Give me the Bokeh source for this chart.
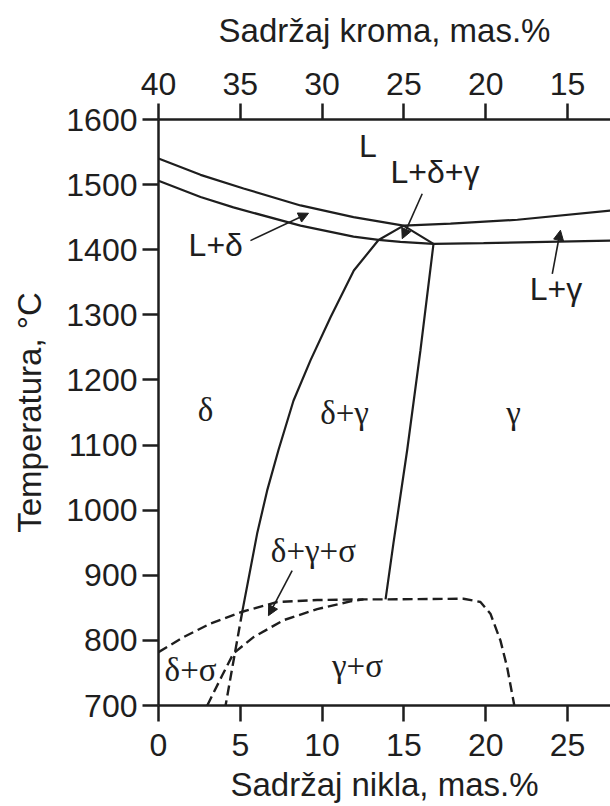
from bokeh.plotting import figure
from bokeh.models import Range1d, LinearAxis, FixedTicker, Arrow, NormalHead, ColumnDataSource
from bokeh.core.properties import value
from bokeh.embed import file_html
from bokeh.resources import INLINE

# ---- data ----
ni_ticks = [0, 5, 10, 15, 20, 25]
cr_ticks = [40, 35, 30, 25, 20, 15]
t_ticks = [700, 800, 900, 1000, 1100, 1200, 1300, 1400, 1500, 1600]

# liquidus (L / L+delta, then L / L+gamma)
liq_ni = [0, 2.57, 5.2, 8.68, 11.92, 14.98, 17.85, 21.94, 27.63]
liq_t = [1540, 1515, 1494, 1468, 1450, 1437, 1440, 1446, 1460]
# solidus (L+delta / delta, then L+gamma / gamma)
sol_ni = [0, 2.57, 4.58, 8.68, 11.92, 13.45, 14.79, 16.81, 19.87, 27.63]
sol_t = [1506, 1481, 1465, 1437, 1420, 1415, 1412, 1409, 1410, 1414]
# three-phase triangle L+delta+gamma (sides to the apex)
tri_ni = [13.45, 14.98, 16.81]
tri_t = [1415, 1437, 1409]
# delta / delta+gamma boundary (solid)
delta_ni = [13.45, 11.94, 10.51, 9.29, 8.25, 7.33, 6.64, 6.03, 5.12]
delta_t = [1415, 1368, 1296, 1230, 1168, 1092, 1030, 964, 844]
# gamma / delta+gamma boundary (solid)
gamma_ni = [16.81, 16.01, 15.2, 14.36, 13.88]
gamma_t = [1409, 1245, 1092, 949, 863]
# delta boundary, low-temperature dashed part
delta_low_ni = [5.12, 4.1]
delta_low_t = [844, 700]
# sigma solvus, upper dashed curve
sig_up_ni = [0, 1.53, 3.18, 5.12, 7.26, 9.7, 12.53, 13.88, 18.64, 19.68, 20.29, 20.9, 21.31, 21.75]
sig_up_t = [782, 805, 826, 844, 859, 862, 863, 863, 864, 859, 841, 800, 759, 700]
# sigma solvus, lower dashed curve
sig_low_ni = [2.98, 3.89, 4.58, 5.81, 7.64, 9.7, 11.74, 12.53]
sig_low_t = [700, 746, 780, 805, 831, 848, 860, 863]

# phase-field labels
sans_labels = ["L", "L+δ+γ", "L+δ", "L+γ"]
sans_ni = [12.8, 16.9, 3.5, 24.3]
sans_t = [1560, 1520, 1407, 1339]
serif_labels = ["δ", "δ+γ", "γ", "δ+γ+σ", "δ+σ", "γ+σ"]
serif_ni = [2.87, 11.37, 21.7, 9.47, 1.96, 12.16]
serif_t = [1154, 1150, 1149, 938, 754, 760]

# pointer arrows (start Ni, start T, end Ni, end T)
arrows = [
    (5.62, 1414, 9.17, 1456),
    (16.12, 1486, 14.9, 1417),
    (24.07, 1363, 24.57, 1430),
    (8.17, 907, 6.72, 838),
]

X_MAX = 27.63
INK = "#1e1e1e"

p = figure(width=610, height=806,
           x_range=Range1d(0, X_MAX), y_range=Range1d(700, 1600),
           output_backend="svg", toolbar_location=None,
           min_border_left=158, min_border_right=0,
           min_border_top=119, min_border_bottom=101)
p.extra_x_ranges = {"cr": Range1d(40, 40 - X_MAX)}
p.grid.visible = False
p.outline_line_color = None
p.background_fill_color = "white"
p.border_fill_color = "white"

bottom = p.below[0]
left = p.left[0]
top = LinearAxis(x_range_name="cr")
p.add_layout(top, "above")

TICK_FONT = "32px"
TITLE_FONT = "33px"
for ax in [bottom, left, top]:
    ax.axis_line_width = 2.5
    ax.axis_line_color = INK
    ax.major_tick_line_width = 2.5
    ax.major_tick_line_color = INK
    ax.major_tick_out = 16
    ax.major_tick_in = 0
    ax.minor_tick_line_color = None
    ax.major_label_text_font = "Liberation Sans"
    ax.major_label_text_font_size = TICK_FONT
    ax.major_label_text_color = INK
    ax.axis_label_text_font = "Liberation Sans"
    ax.axis_label_text_font_size = TITLE_FONT
    ax.axis_label_text_font_style = "normal"
    ax.axis_label_text_color = INK

bottom.ticker = FixedTicker(ticks=ni_ticks)
bottom.axis_label = "Sadržaj nikla, mas.%"
bottom.major_label_standoff = 12
bottom.axis_label_standoff = 7

top.ticker = FixedTicker(ticks=cr_ticks)
top.axis_label = "Sadržaj kroma, mas.%"
top.major_label_standoff = 9
top.axis_label_standoff = 21

left.ticker = FixedTicker(ticks=t_ticks)
left.axis_label = "Temperatura, °C"
left.major_label_standoff = 5
left.axis_label_standoff = 15

SOLID = dict(line_color=INK, line_width=2.2)
DASH = dict(line_color=INK, line_width=2.4, line_dash="10 5")

p.line(liq_ni, liq_t, **SOLID)
p.line(sol_ni, sol_t, **SOLID)
p.line(tri_ni, tri_t, **SOLID)
p.line(delta_ni, delta_t, **SOLID)
p.line(gamma_ni, gamma_t, **SOLID)
p.line(delta_low_ni, delta_low_t, **DASH)
p.line(sig_up_ni, sig_up_t, **DASH)
p.line(sig_low_ni, sig_low_t, **DASH)

for (x0, y0, x1, y1) in arrows:
    p.add_layout(Arrow(end=NormalHead(size=10, fill_color=INK, line_color=INK, line_width=1),
                       x_start=x0, y_start=y0, x_end=x1, y_end=y1,
                       line_color=INK, line_width=1.6))

src_sans = ColumnDataSource(dict(x=sans_ni, y=sans_t, t=sans_labels))
p.text(x="x", y="y", text="t", source=src_sans, text_font=value("Liberation Sans"),
       text_font_size="32px", text_color=INK, text_align="center", text_baseline="middle")
src_serif = ColumnDataSource(dict(x=serif_ni, y=serif_t, t=serif_labels))
p.text(x="x", y="y", text="t", source=src_serif, text_font=value("Liberation Serif"),
       text_font_size="33px", text_color=INK, text_align="center", text_baseline="middle")

open("out.html", "w").write(file_html(p, INLINE))
